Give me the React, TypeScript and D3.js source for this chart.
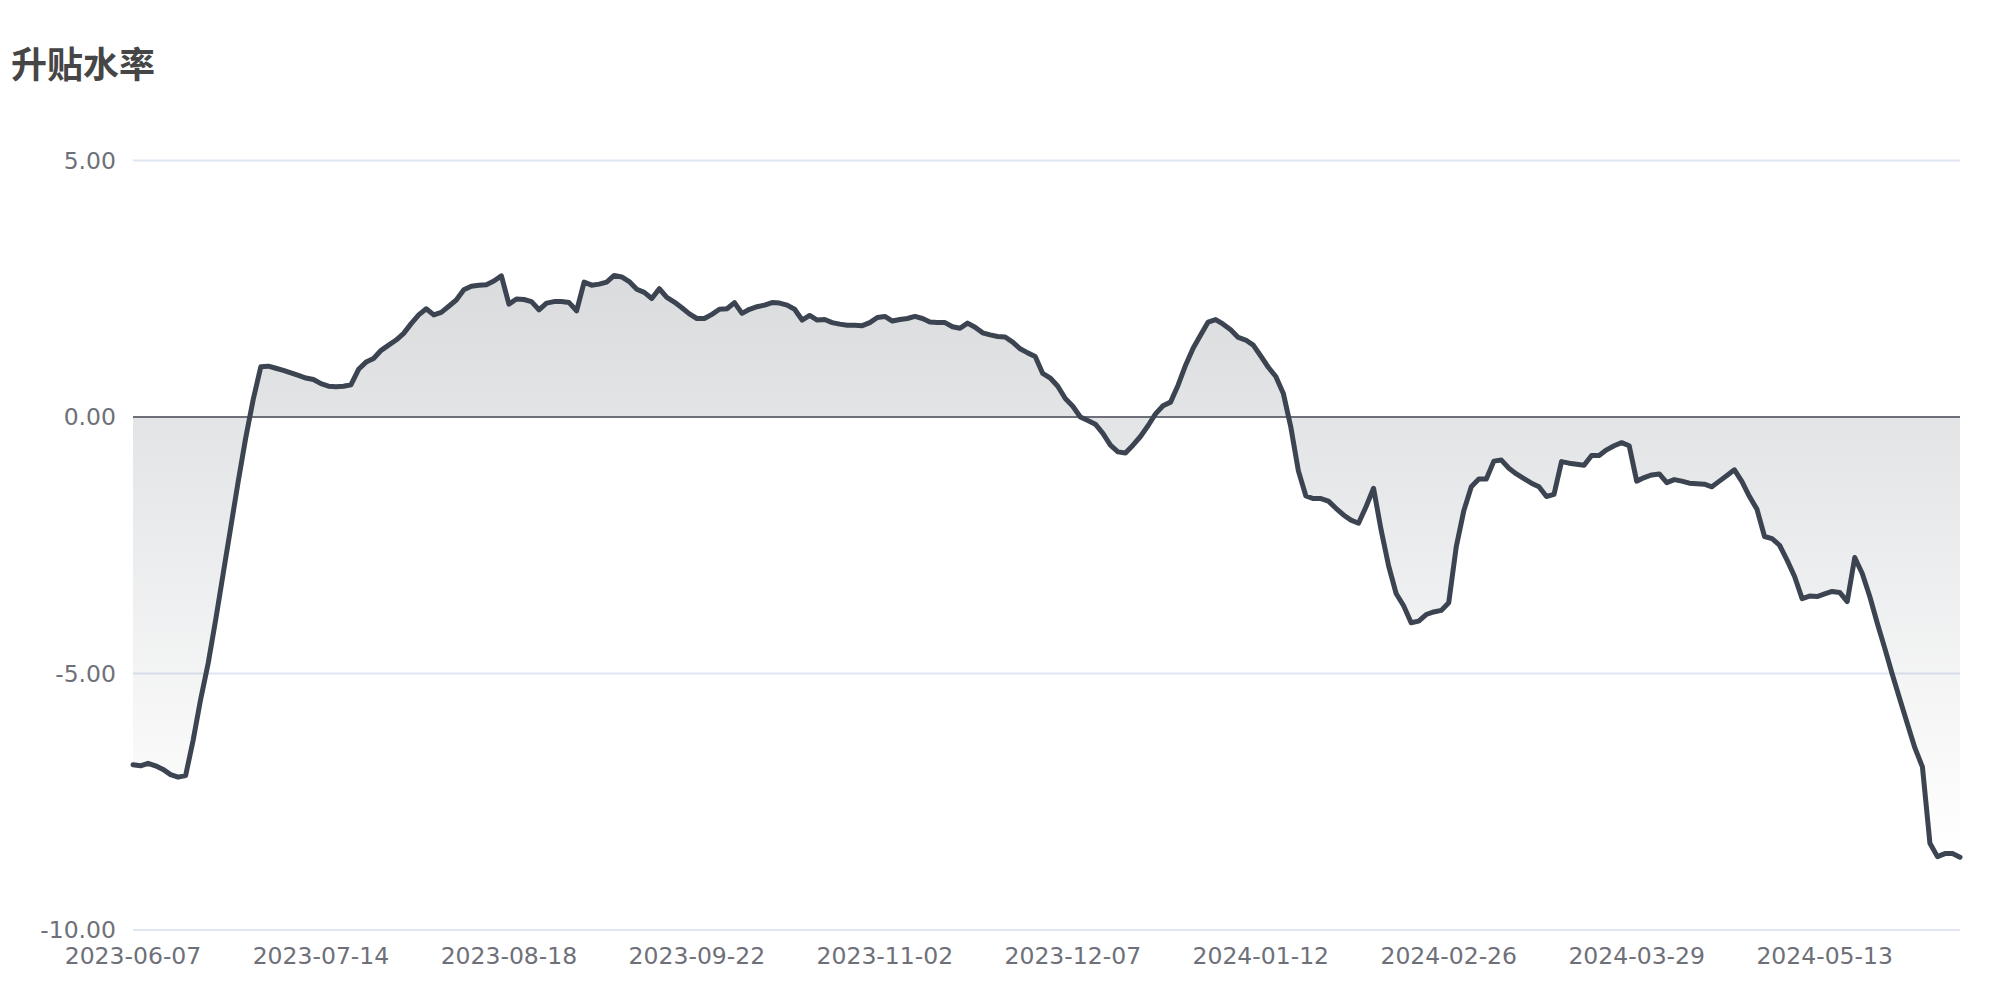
import React from "react";
import * as d3 from "d3";

const titleText = "升贴水率";

const xTickLabels = [
  "2023-06-07", "2023-07-14", "2023-08-18", "2023-09-22", "2023-11-02",
  "2023-12-07", "2024-01-12", "2024-02-26", "2024-03-29", "2024-05-13",
];
const xTickEvery = 25;

const yTicks = [5, 0, -5, -10];

const premiumRate = [
  -6.78, -6.80, -6.75, -6.80, -6.87, -6.97, -7.02, -6.99, -6.30, -5.50,
  -4.80, -3.95, -3.05, -2.15, -1.25, -0.40, 0.35, 0.98, 0.99, 0.95,
  0.91, 0.86, 0.81, 0.76, 0.73, 0.65, 0.60, 0.59, 0.60, 0.63,
  0.93, 1.07, 1.14, 1.30, 1.40, 1.50, 1.63, 1.82, 1.99, 2.11,
  1.99, 2.04, 2.16, 2.28, 2.48, 2.55, 2.57, 2.58, 2.65, 2.75,
  2.20, 2.30, 2.29, 2.25, 2.09, 2.22, 2.25, 2.25, 2.23, 2.07,
  2.63, 2.57, 2.59, 2.63, 2.76, 2.73, 2.64, 2.49, 2.43, 2.31,
  2.50, 2.33, 2.24, 2.13, 2.01, 1.92, 1.92, 2.00, 2.10, 2.11,
  2.23, 2.02, 2.10, 2.15, 2.18, 2.23, 2.22, 2.18, 2.10, 1.89,
  1.98, 1.89, 1.90, 1.84, 1.81, 1.79, 1.79, 1.78, 1.84, 1.94,
  1.96, 1.87, 1.90, 1.92, 1.96, 1.92, 1.85, 1.84, 1.84, 1.76,
  1.73, 1.83, 1.75, 1.64, 1.60, 1.57, 1.56, 1.46, 1.33, 1.25,
  1.18, 0.85, 0.76, 0.60, 0.36, 0.21, 0.00, -0.07, -0.14, -0.32,
  -0.55, -0.68, -0.70, -0.55, -0.38, -0.17, 0.06, 0.22, 0.29, 0.62,
  1.01, 1.34, 1.60, 1.85, 1.90, 1.81, 1.70, 1.55, 1.50, 1.40,
  1.19, 0.97, 0.79, 0.46, -0.20, -1.05, -1.54, -1.59, -1.59, -1.64,
  -1.78, -1.91, -2.01, -2.07, -1.75, -1.39, -2.20, -2.90, -3.44, -3.68,
  -4.01, -3.98, -3.85, -3.80, -3.77, -3.62, -2.53, -1.83, -1.36, -1.21,
  -1.21, -0.86, -0.84, -1.00, -1.11, -1.20, -1.29, -1.36, -1.55, -1.51,
  -0.87, -0.90, -0.92, -0.94, -0.75, -0.75, -0.64, -0.56, -0.50, -0.56,
  -1.25, -1.18, -1.13, -1.11, -1.28, -1.22, -1.25, -1.29, -1.30, -1.31,
  -1.36, -1.25, -1.14, -1.03, -1.26, -1.55, -1.80, -2.33, -2.37, -2.50,
  -2.79, -3.11, -3.54, -3.49, -3.50, -3.45, -3.40, -3.42, -3.60, -2.74,
  -3.05, -3.50, -4.02, -4.51, -5.02, -5.50, -5.98, -6.45, -6.82, -8.31,
  -8.57, -8.51, -8.51, -8.58,
];

const W = 2000;
const H = 1000;
const LEFT = 133;
const RIGHT = 1960;
const TOP = 160.5;
const BOTTOM = 930;

const LINE = "#3b4450";
const AXIS_TXT = "#6e7079";
const GRID = "#e0e6f1";

export default function App() {
  const n = premiumRate.length;
  const x = d3.scaleLinear().domain([0, n - 1]).range([LEFT, RIGHT]);
  const y = d3.scaleLinear().domain([-10, 5]).range([BOTTOM, TOP]);

  const idx = d3.range(n);
  const lineGen = d3
    .line<number>()
    .x((i) => x(i))
    .y((i) => y(premiumRate[i]));
  const areaGen = d3
    .area<number>()
    .x((i) => x(i))
    .y0(y(0))
    .y1((i) => y(premiumRate[i]));

  const font = "'DejaVu Sans', sans-serif";

  return (
    <svg
      width={W}
      height={H}
      style={{ position: "absolute", left: 0, top: 0, background: "#fff" }}
    >
      <defs>
        <linearGradient id="areaGrad" x1="0" y1="0" x2="0" y2="1">
          <stop offset="0" stopColor={LINE} stopOpacity={0.19} />
          <stop offset="1" stopColor={LINE} stopOpacity={0} />
        </linearGradient>
      </defs>
      <rect x={0} y={0} width={W} height={H} fill="#fff" />

      <text
        x={11}
        y={62}
        dominantBaseline="central"
        fontFamily="'Noto Sans CJK SC', sans-serif"
        fontWeight="bold"
        fontSize={36}
        fill="#464646"
      >
        {titleText}
      </text>

      {yTicks.map((t) => (
        <g key={t}>
          {t !== 0 && (
            <line x1={LEFT} x2={RIGHT} y1={y(t)} y2={y(t)} stroke={GRID} strokeWidth={2} />
          )}
          <text
            x={116}
            y={y(t)}
            textAnchor="end"
            dominantBaseline="central"
            fontFamily={font}
            fontSize={23.5}
            fill={AXIS_TXT}
          >
            {t.toFixed(2)}
          </text>
        </g>
      ))}

      <path d={areaGen(idx) || ""} fill="url(#areaGrad)" stroke="none" />

      <line x1={LEFT} x2={RIGHT} y1={y(0)} y2={y(0)} stroke={AXIS_TXT} strokeWidth={2} />

      <path
        d={lineGen(idx) || ""}
        fill="none"
        stroke={LINE}
        strokeWidth={5}
        strokeLinejoin="round"
        strokeLinecap="round"
      />

      {xTickLabels.map((lab, k) => (
        <text
          key={lab}
          x={x(k * xTickEvery)}
          y={963.5}
          textAnchor="middle"
          fontFamily={font}
          fontSize={23.5}
          fill={AXIS_TXT}
        >
          {lab}
        </text>
      ))}
    </svg>
  );
}
